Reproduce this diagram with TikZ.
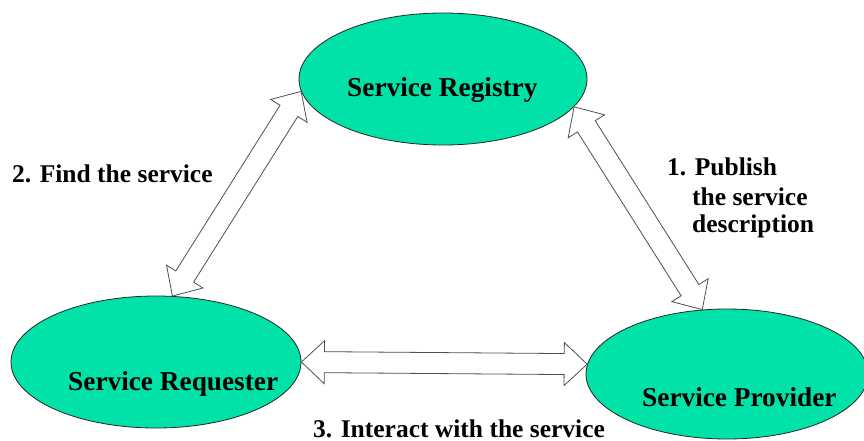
\documentclass[tikz,border=0pt]{standalone}
\usepackage{fontspec}
\setmainfont{Liberation Serif}
\usetikzlibrary{shapes.geometric,calc}
\definecolor{svcgreen}{RGB}{0,226,168}
\definecolor{arrgray}{RGB}{80,80,80}
\tikzset{
  svc/.style={ellipse, draw=black!85, line width=0.8pt, fill=svcgreen, inner sep=0pt},
  bigtxt/.style={anchor=base west, inner sep=0pt, font=\fontsize{27.3}{30}\selectfont\bfseries},
  lbltxt/.style={anchor=base west, inner sep=0pt, font=\fontsize{25.5}{28}\selectfont\bfseries},
  arrowline/.style={draw=arrgray, fill=white, line width=0.8pt, line join=miter}
}
\newcommand\hollowdbl[2]{%
  \coordinate (ha) at ($(#1)!23pt!(#2)$);
  \coordinate (hb) at ($(#2)!23pt!(#1)$);
  \draw[arrowline] (#1) -- ($(ha)!21.5pt!90:(#2)$) -- ($(ha)!10.5pt!90:(#2)$)
    -- ($(hb)!10.5pt!-90:(#1)$) -- ($(hb)!21.5pt!-90:(#1)$) -- (#2)
    -- ($(hb)!21.5pt!90:(#1)$) -- ($(hb)!10.5pt!90:(#1)$)
    -- ($(ha)!10.5pt!-90:(#2)$) -- ($(ha)!21.5pt!-90:(#2)$) -- cycle;
}
\begin{document}
\begin{tikzpicture}[x=1pt,y=-1pt]
\useasboundingbox (0,0) rectangle (864,441);
\node[svc, minimum width=288pt, minimum height=132pt] (reg) at (443,79) {};
\node[svc, minimum width=290pt, minimum height=132pt] (req) at (156,362) {};
\node[svc, minimum width=282pt, minimum height=130pt] (prov) at (727,374) {};

\coordinate (t1a) at (reg.185);
\coordinate (t1b) at (req.76);
\coordinate (t2a) at (reg.348);
\coordinate (t2b) at (prov.111);
\coordinate (t3a) at (req.east);
\coordinate (t3b) at (prov.176);
\hollowdbl{t1a}{t1b}
\hollowdbl{t2a}{t2b}
\hollowdbl{t3a}{t3b}

\node[bigtxt] (regt) at (347,97) {Service Registry};
\node[bigtxt] (reqt) at (68,390) {Service Requester};
\node[bigtxt] (provt) at (642,406) {Service Provider};

\node[lbltxt] (l2) at (12,182) {2. Find the service};
\node[lbltxt] (l1a) at (667,175) {1. Publish};
\node[lbltxt] (l1b) at (692,205) {the service};
\node[lbltxt] (l1c) at (692,232) {description};
\node[lbltxt] (l3) at (313,437) {3. Interact with the service};
\end{tikzpicture}
\end{document}
